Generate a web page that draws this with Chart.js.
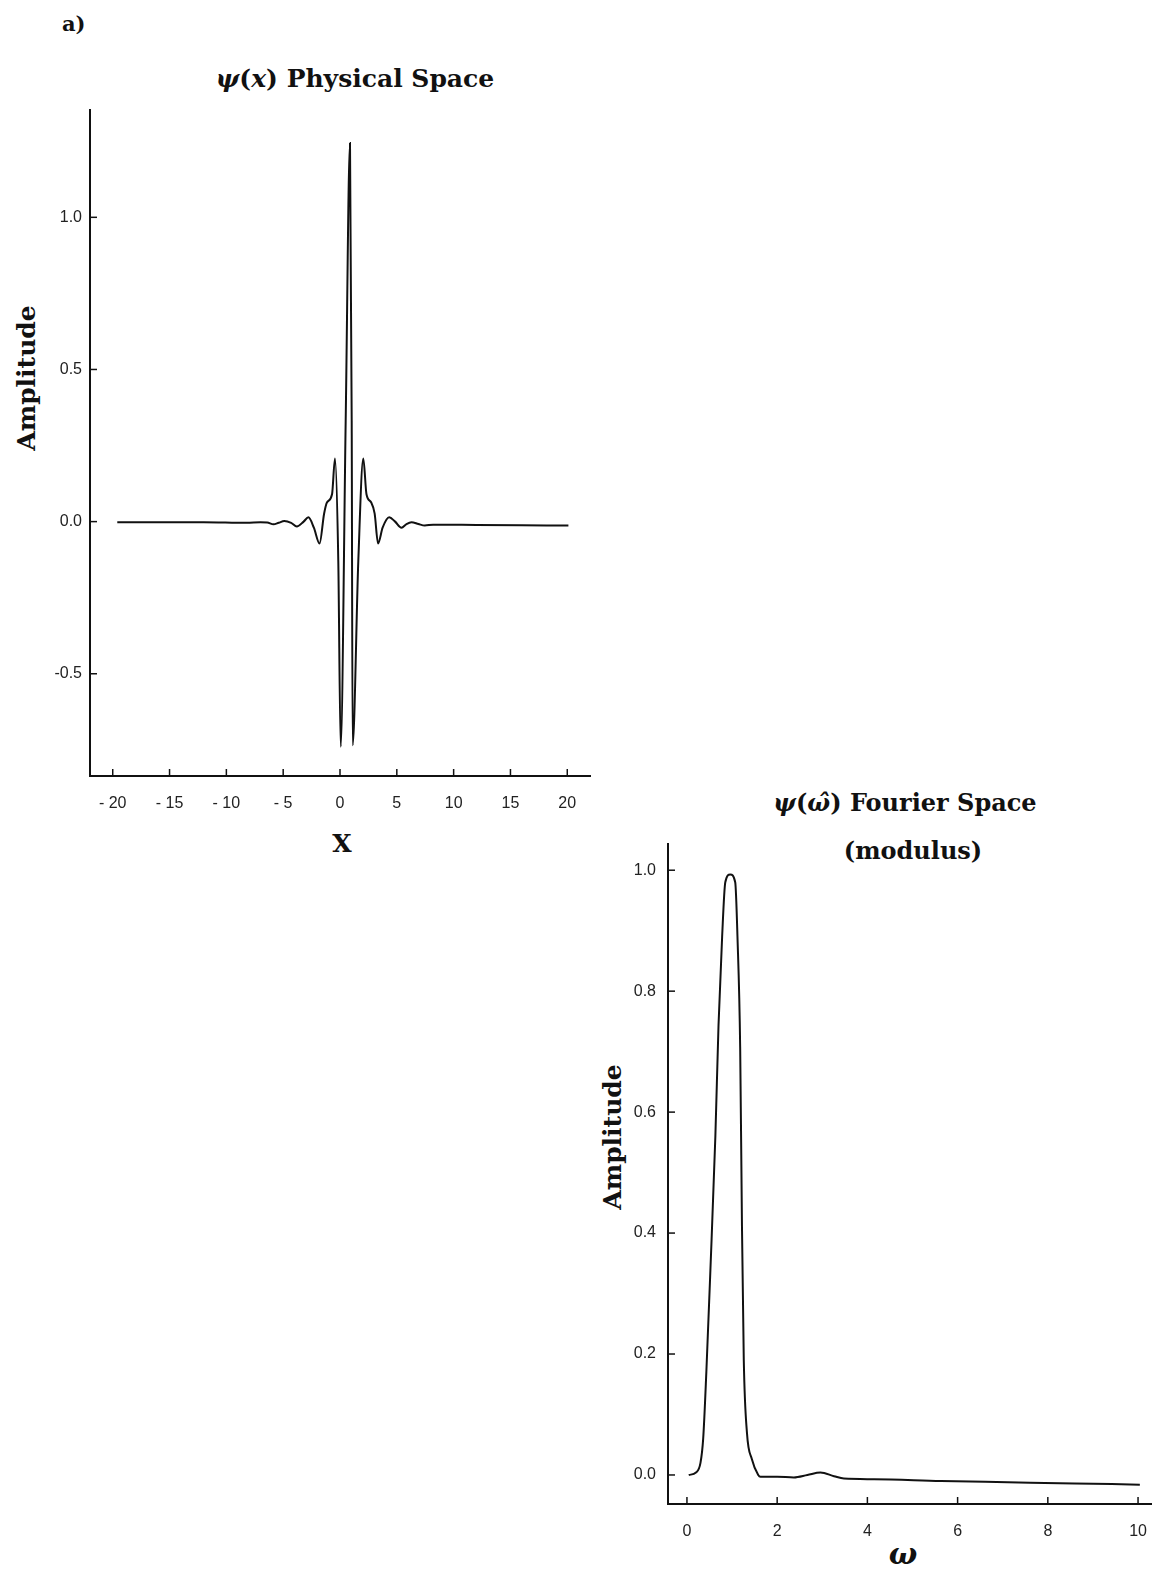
<!DOCTYPE html>
<html>
<head>
<meta charset="utf-8">
<script src="https://cdn.jsdelivr.net/npm/chart.js@4.4.1/dist/chart.umd.min.js"></script>
<style>
  body { margin: 0; background: #fff; width: 1157px; height: 1570px; position: relative; overflow: hidden; }
  .txt { position: absolute; white-space: nowrap; color: #111; font-family: "DejaVu Serif", serif; font-weight: bold; }
  .centro { transform: translate(-50%, -50%); }
  .vertical { transform: translate(-50%, -50%) rotate(-90deg); }
  #cvFisico { position: absolute; left: 0; top: 100px; }
  #cvFourier { position: absolute; left: 580px; top: 830px; }
</style>
</head>
<body>
<div class="txt" style="left:62px; top:11px; font-size:21px;">a)</div>
<div class="txt centro" style="left:355px; top:78px; font-size:25px;"><i>ψ</i>(<i>x</i>) Physical Space</div>
<div class="txt vertical" style="left:26px; top:378px; font-size:25px;">Amplitude</div>
<div class="txt centro" style="left:342px; top:843px; font-size:25px;">X</div>

<div class="txt centro" style="left:905px; top:802px; font-size:24px;"><i>ψ</i>(<i>ω̂</i>) Fourier Space</div>
<div class="txt centro" style="left:913px; top:850px; font-size:24px;">(modulus)</div>
<div class="txt vertical" style="left:612px; top:1137px; font-size:25px;">Amplitude</div>
<div class="txt centro" style="left:903px; top:1553px; font-size:30px;"><i>ω</i></div>

<canvas id="cvFisico" width="600" height="780"></canvas>
<canvas id="cvFourier" width="577" height="740"></canvas>

<script>
// espaço físico: psi(x)
var fisicoX = [-19.6, -12, -8.2, -7.0, -6.4, -5.85, -5.4, -4.9, -4.3, -3.8, -3.2, -2.78, -2.3, -1.8, -1.4, -1.15, -0.7, -0.44, -0.15, 0.06, 0.5, 0.88, 1.03, 1.11, 1.61, 2.05, 2.33, 2.75, 3.05, 3.35, 3.75, 4.33, 4.85, 5.41, 5.85, 6.29, 6.9, 7.46, 8.2, 12, 16, 20.1];
var fisicoY = [-0.002, -0.002, -0.004, -0.002, -0.003, -0.009, -0.004, 0.002, -0.004, -0.016, 0.0, 0.014, -0.02, -0.072, 0.026, 0.063, 0.09, 0.207, -0.13, -0.74, 0.33, 1.244, 0.33, -0.735, -0.13, 0.207, 0.09, 0.063, 0.026, -0.072, -0.02, 0.014, 0.0, -0.02, -0.008, -0.002, -0.008, -0.013, -0.01, -0.011, -0.012, -0.013];
var fisicoTicksX = [-20, -15, -10, -5, 0, 5, 10, 15, 20];
var fisicoLabelsX = ['- 20', '- 15', '- 10', '- 5', '0', '5', '10', '15', '20'];
var fisicoTicksY = [-0.5, 0, 0.5, 1.0];
var fisicoLabelsY = ['-0.5', '0.0', '0.5', '1.0'];

// espaço de Fourier: modulo de psi(w)
var fourierX = [0.04, 0.2, 0.3, 0.36, 0.43, 0.52, 0.63, 0.70, 0.78, 0.85, 0.96, 1.07, 1.12, 1.18, 1.22, 1.26, 1.33, 1.44, 1.58, 1.63, 2.0, 2.37, 2.67, 2.96, 3.26, 3.48, 4.15, 5.63, 7.11, 8.59, 10.04];
var fourierY = [0.0, 0.004, 0.02, 0.06, 0.17, 0.339, 0.56, 0.744, 0.89, 0.98, 0.993, 0.98, 0.89, 0.707, 0.41, 0.19, 0.07, 0.026, 0.0, -0.003, -0.003, -0.004, 0.0, 0.004, -0.002, -0.006, -0.007, -0.010, -0.012, -0.014, -0.016];
var fourierTicksX = [0, 2, 4, 6, 8, 10];
var fourierLabelsX = ['0', '2', '4', '6', '8', '10'];
var fourierTicksY = [0, 0.2, 0.4, 0.6, 0.8, 1.0];
var fourierLabelsY = ['0.0', '0.2', '0.4', '0.6', '0.8', '1.0'];

function pontos(xs, ys) {
    return xs.map(function (x, i) { return { x: x, y: ys[i] }; });
}

// ticks para dentro da area do grafico, como no original
var tickInterno = {
    id: 'tickInterno',
    afterDraw: function (chart) {
        var ctx = chart.ctx, area = chart.chartArea;
        var sx = chart.scales.x, sy = chart.scales.y;
        ctx.save();
        ctx.strokeStyle = '#111';
        ctx.lineWidth = 1.5;
        sx.ticks.forEach(function (t) {
            var px = sx.getPixelForValue(t.value);
            ctx.beginPath(); ctx.moveTo(px, area.bottom); ctx.lineTo(px, area.bottom - 7); ctx.stroke();
        });
        sy.ticks.forEach(function (t) {
            var py = sy.getPixelForValue(t.value);
            ctx.beginPath(); ctx.moveTo(area.left, py); ctx.lineTo(area.left + 7, py); ctx.stroke();
        });
        ctx.restore();
    }
};

function eixo(min, max, valores, rotulos, tamanho, padding, horizontal) {
    return {
        type: 'linear',
        min: min,
        max: max,
        grid: { display: false },
        border: { display: true, color: '#111', width: 2 },
        afterBuildTicks: function (scale) {
            scale.ticks = valores.map(function (v) { return { value: v }; });
        },
        afterFit: function (scale) {
            if (horizontal) scale.height = tamanho; else scale.width = tamanho;
        },
        ticks: {
            autoSkip: false,
            maxRotation: 0,
            padding: padding,
            color: '#222',
            font: { family: 'Liberation Sans', size: 16 },
            callback: function (v) {
                var i = valores.indexOf(v);
                return i >= 0 ? rotulos[i] : '';
            }
        }
    };
}

// GRAFICO ESPACO FISICO
new Chart(document.getElementById('cvFisico'), {
    type: 'line',
    data: {
        datasets: [{
            data: pontos(fisicoX, fisicoY),
            borderColor: '#111',
            borderWidth: 2,
            pointRadius: 0,
            cubicInterpolationMode: 'monotone',
            fill: false
        }]
    },
    options: {
        responsive: false,
        animation: false,
        layout: { padding: { top: 8, right: 10, left: 0, bottom: 0 } },
        plugins: { legend: { display: false }, tooltip: { enabled: false } },
        scales: {
            x: eixo(-22, 22, fisicoTicksX, fisicoLabelsX, 104, 10, true),
            y: eixo(-0.836, 1.354, fisicoTicksY, fisicoLabelsY, 90, 0, false)
        }
    },
    plugins: [tickInterno]
});

// GRAFICO ESPACO DE FOURIER
new Chart(document.getElementById('cvFourier'), {
    type: 'line',
    data: {
        datasets: [{
            data: pontos(fourierX, fourierY),
            borderColor: '#111',
            borderWidth: 2,
            pointRadius: 0,
            cubicInterpolationMode: 'monotone',
            fill: false
        }]
    },
    options: {
        responsive: false,
        animation: false,
        layout: { padding: { top: 4, right: 2, left: 0, bottom: 0 } },
        plugins: { legend: { display: false }, tooltip: { enabled: false } },
        scales: {
            x: eixo(-0.42, 10.3, fourierTicksX, fourierLabelsX, 66, 10, true),
            y: eixo(-0.048, 1.044, fourierTicksY, fourierLabelsY, 88, 4, false)
        }
    },
    plugins: [tickInterno]
});
</script>
</body>
</html>
